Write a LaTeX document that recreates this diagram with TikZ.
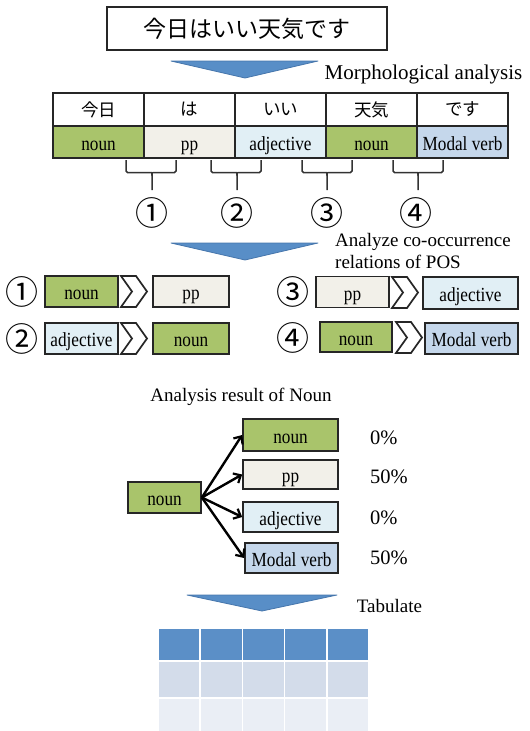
\documentclass[tikz,border=0pt]{standalone}
\usepackage{fontspec}
\setmainfont{Liberation Serif}
\newfontfamily\cond[FakeStretch=0.86]{Liberation Serif}
\newfontfamily\cjk{Noto Sans CJK JP}
\usetikzlibrary{arrows.meta}
\definecolor{cnoun}{RGB}{169,196,107}
\definecolor{cpp}{RGB}{242,240,233}
\definecolor{cadj}{RGB}{225,239,245}
\definecolor{cmod}{RGB}{197,215,235}
\definecolor{ablue}{RGB}{88,142,199}
\definecolor{ablueD}{RGB}{70,118,172}
\definecolor{thead}{RGB}{91,143,199}
\definecolor{trow}{RGB}{211,220,234}
\definecolor{trowb}{RGB}{234,238,245}
\tikzset{
  boxline/.style={draw=black!85, line width=1.7pt, inner sep=0pt, minimum height=31pt},
  box/.style={boxline, font=\cond\fontsize{20}{20}\selectfont, text height=20pt, text depth=4pt},
  jp/.style={boxline, font=\cjk\fontsize{17.5}{17.5}\selectfont},
  numb/.style={font=\cjk\fontsize{33}{33}\selectfont, inner sep=0pt},
  lbl/.style={font=\fontsize{19}{22}\selectfont, inner sep=0pt},
  pct/.style={font=\fontsize{20.5}{20.5}\selectfont, inner sep=0pt, anchor=west},
  tri/.style={fill=ablue, draw=ablueD, line width=0.8pt, line join=round},
  chev/.style={draw=black!85, fill=white, line width=1.7pt, line join=miter},
  bracel/.style={draw=black!80, line width=1.5pt, rounded corners=1.5pt},
  arr/.style={-{Straight Barb[length=6pt,width=11pt,line width=2.2pt]}, line width=2.4pt},
  tcell/.style={draw=white, line width=1.5pt}
}
\newcommand\mychev[3]{%
  \draw[chev] ({#1},{#3-15.5}) -- ({#2-11},{#3-15.5}) -- ({#2},{#3}) -- ({#2-11},{#3+15.5}) -- ({#1},{#3+15.5}) -- ({#1+11},{#3}) -- cycle;}
\newcommand\mybrace[3]{%
  \draw[bracel] ({#1},160) -- ({#1},172.5) -- ({#3-3},172.5) .. controls ({#3},172.5) .. ({#3},176) -- ({#3},190);
  \draw[bracel] ({#2},160) -- ({#2},172.5) -- ({#3+3},172.5) .. controls ({#3},172.5) .. ({#3},176);}
\begin{document}
\begin{tikzpicture}[x=1pt,y=-1pt]
\useasboundingbox (0,0) rectangle (530,731);
% top sentence
\node[draw=black!85, line width=1.6pt, minimum width=280pt, minimum height=43pt, inner sep=0pt,
  font=\cjk\fontsize{23}{23}\selectfont] (sent) at (247,28.5) {今日はいい天気です};
% arrow 1
\draw[tri] (171,61) -- (318,61) -- (245,78) -- cycle;
\node[lbl, font=\fontsize{21}{22}\selectfont] (morph) at (423.5,74) {Morphological analysis};
% table
\foreach \i/\w in {1/今日,2/は,3/いい,4/天気,5/です}{
  \node[jp, fill=white, minimum width=91pt, minimum height=33pt] (w\i) at ({53+91*(\i-1)+45.5},109.5) {\w};
}
\node[box, fill=cnoun, minimum width=91pt, minimum height=32pt] (p1) at (98.5,142) {noun};
\node[box, fill=cpp, minimum width=91pt, minimum height=32pt] (p2) at (189.5,142) {pp};
\node[box, fill=cadj, minimum width=91pt, minimum height=32pt] (p3) at (280.5,142) {adjective};
\node[box, fill=cnoun, minimum width=91pt, minimum height=32pt] (p4) at (371.5,142) {noun};
\node[box, fill=cmod, minimum width=91pt, minimum height=32pt] (p5) at (462.5,142) {Modal verb};
% braces
\mybrace{126}{176}{152}
\mybrace{211}{261}{237}
\mybrace{302}{352}{327}
\mybrace{393}{443}{418}
\node[numb] (n1) at (152,213) {①};
\node[numb] (n2) at (237,213) {②};
\node[numb] (n3) at (327,213) {③};
\node[numb] (n4) at (416,213) {④};
% arrow 2
\draw[tri] (171,243) -- (318,243) -- (245,260) -- cycle;
\node[lbl, align=left, anchor=west] (cooc) at (335,251) {Analyze co-occurrence\\relations of POS};
% pairs
\node[numb] (m1) at (22,292) {①};
\node[box, fill=cnoun, minimum width=73pt] (a1) at (81.5,291.5) {noun};
\mychev{121}{147}{291.5}
\node[box, fill=cpp, minimum width=76pt] (b1) at (191,291.5) {pp};
\node[numb] (m2) at (22,339) {②};
\node[box, fill=cadj, minimum width=73pt] (a2) at (81.5,338.5) {adjective};
\mychev{121}{147}{338.5}
\node[box, fill=cnoun, minimum width=76pt] (b2) at (191,338.5) {noun};
\node[numb] (m3) at (293,292) {③};
\node[box, fill=cpp, minimum width=73pt] (a3) at (352.5,292) {pp};
\mychev{392}{418}{292.5}
\node[box, fill=cadj, minimum width=95pt, minimum height=32pt] (b3) at (470.5,293) {adjective};
\node[numb] (m4) at (293,338) {④};
\node[box, fill=cnoun, minimum width=72pt, minimum height=30pt] (a4) at (356,337) {noun};
\mychev{396}{422}{337.5}
\node[box, fill=cmod, minimum width=93pt] (b4) at (471.5,338.5) {Modal verb};
% analysis of noun
\node[lbl] (res) at (241,397) {Analysis result of Noun};
\node[box, fill=cnoun, minimum width=73pt] (src) at (164.5,497.5) {noun};
\node[box, fill=cnoun, minimum width=95pt, minimum height=32pt] (t1) at (290.5,435) {noun};
\node[box, fill=cpp, minimum width=95pt, minimum height=29pt] (t2) at (290.5,474.5) {pp};
\node[box, fill=cadj, minimum width=95pt, minimum height=30pt] (t3) at (290.5,517) {adjective};
\node[box, fill=cmod, minimum width=93pt, minimum height=30pt] (t4) at (291.5,558) {Modal verb};
\foreach \t in {t1,t2,t3,t4}{ \draw[arr] (src.east) -- (\t.west); }
\node[pct] (q1) at (370,438) {0\%};
\node[pct] (q2) at (370,477) {50\%};
\node[pct] (q3) at (370,518) {0\%};
\node[pct] (q4) at (370,558) {50\%};
% arrow 3
\draw[tri] (187,595) -- (337,595) -- (262,611) -- cycle;
\node[lbl] (tab) at (389.5,606) {Tabulate};
% final table
\foreach \j in {0,...,4}{
  \pgfmathsetmacro\xa{158+42.2*\j}
  \pgfmathsetmacro\xb{158+42.2*(\j+1)}
  \path[tcell, fill=thead] (\xa,628) rectangle (\xb,661);
  \path[tcell, fill=trow] (\xa,661) rectangle (\xb,698);
  \path[tcell, fill=trowb] (\xa,698) rectangle (\xb,733);
}
\end{tikzpicture}
\end{document}
